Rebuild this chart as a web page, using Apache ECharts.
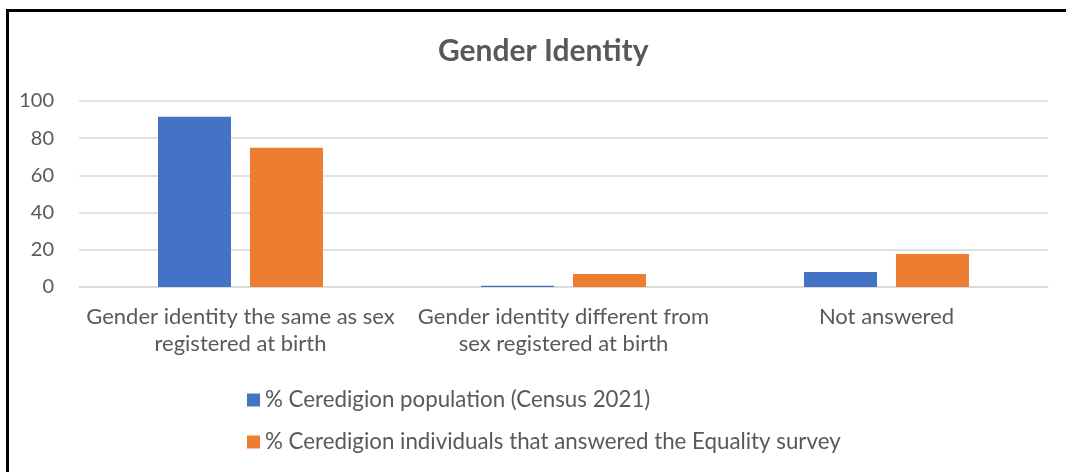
<!DOCTYPE html>
<html>
<head>
<meta charset="utf-8">
<script src="https://cdn.jsdelivr.net/npm/echarts@6/dist/echarts.min.js"></script>
<style>
  html, body { margin: 0; padding: 0; background: #fff; overflow: hidden; width: 1066px; height: 472px; }
  #frame {
    position: absolute; left: 6px; top: 9px; width: 1057px; height: 460px;
    border-top: 3px solid #000; border-left: 3px solid #000;
  }
  #main-chart { position: absolute; left: 0; top: 0; width: 1066px; height: 472px; }
  #edge { position: absolute; left: 1052px; top: 12px; width: 14px; height: 460px; background: #fff; z-index: 5; }
</style>
</head>
<body>
<div id="frame"></div>
<div id="main-chart"></div>
<div id="edge"></div>
<script>
const categories = [
  "Gender identity the same as sex\nregistered at birth",
  "Gender identity different from\nsex registered at birth",
  "Not answered"
];
const censusValues = [91.5, 0.7, 8.0];
const surveyValues = [74.8, 7.0, 17.8];
const seriesNames = [
  "% Ceredigion population (Census 2021)",
  "% Ceredigion individuals that answered the Equality survey"
];
const yTicks = { min: 0, max: 100, interval: 20 };

const font = "Lato";
const textColor = "#595959";

const chart = echarts.init(document.getElementById("main-chart"));

chart.setOption({
  animation: false,
  title: {
    text: "Gender Identity",
    left: 433,
    top: 31,
    textStyle: { fontFamily: font, fontSize: 30, fontWeight: "bold", color: textColor }
  },
  legend: {
    orient: "vertical",
    left: 242,
    top: 382,
    itemWidth: 13,
    itemHeight: 13,
    itemGap: 16,
    icon: "rect",
    textStyle: { fontFamily: font, fontSize: 22.3, color: textColor, lineHeight: 26 }
  },
  grid: { left: 79, right: 18, top: 101, bottom: 185, containLabel: false },
  xAxis: {
    type: "category",
    data: categories,
    axisLine: { lineStyle: { color: "#d9d9d9", width: 1.5 } },
    axisTick: { show: false },
    axisLabel: {
      fontFamily: font, fontSize: 22, color: textColor, lineHeight: 27,
      margin: 16, interval: 0
    }
  },
  yAxis: {
    type: "value",
    min: yTicks.min,
    max: yTicks.max,
    interval: yTicks.interval,
    axisLine: { show: false },
    axisTick: { show: false },
    axisLabel: { fontFamily: font, fontSize: 20, color: textColor, margin: 25 },
    splitLine: { lineStyle: { color: "#d9d9d9", width: 1.5 } }
  },
  series: [
    {
      name: seriesNames[0],
      type: "bar",
      data: censusValues,
      itemStyle: { color: "#4472C4" },
      barWidth: 73,
      barGap: "26%"
    },
    {
      name: seriesNames[1],
      type: "bar",
      data: surveyValues,
      itemStyle: { color: "#ED7D31" },
      barWidth: 73,
      barGap: "26%"
    }
  ]
});

window.addEventListener("resize", () => chart.resize());
</script>
</body>
</html>
